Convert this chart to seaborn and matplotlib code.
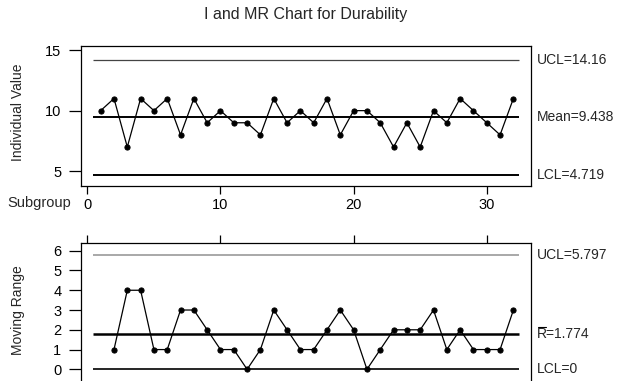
import matplotlib
matplotlib.use("Agg")
import matplotlib.pyplot as plt
import matplotlib.transforms as mtransforms
import seaborn as sns
import pandas as pd

# ---------- Data ----------
subgroup = list(range(1, 33))
individual = [10, 11, 7, 11, 10, 11, 8, 11, 9, 10,
              9, 9, 8, 11, 9, 10, 9, 11, 8, 10,
              10, 9, 7, 9, 7, 10, 9, 11, 10, 9,
              8, 11]
mr_subgroup = list(range(2, 33))
moving_range = [1, 4, 4, 1, 1, 3, 3, 2, 1, 1,
                0, 1, 3, 2, 1, 1, 2, 3, 2, 0,
                1, 2, 2, 2, 3, 1, 2, 1, 1, 1,
                3]

i_ucl, i_mean, i_lcl = 14.16, 9.438, 4.719
mr_ucl, mr_bar, mr_lcl = 5.797, 1.774, 0

i_labels = ["UCL=14.16", "Mean=9.438", "LCL=4.719"]
mr_labels = ["UCL=5.797", "R=1.774", "LCL=0"]

df_i = pd.DataFrame({"subgroup": subgroup, "value": individual})
df_mr = pd.DataFrame({"subgroup": mr_subgroup, "value": moving_range})

# ---------- Style ----------
sns.set_style("ticks")
plt.rcParams["font.family"] = ["Liberation Sans", "DejaVu Sans"]
plt.rcParams["axes.edgecolor"] = "black"
plt.rcParams["axes.linewidth"] = 0.9
plt.rcParams["xtick.color"] = "black"
plt.rcParams["ytick.color"] = "black"

fig = plt.figure(figsize=(6.18, 3.81), dpi=100)
W, H = 618, 381

def px_axes(left, top, right, bottom):
    return fig.add_axes([left / W, 1 - bottom / H, (right - left) / W, (bottom - top) / H])

ax1 = px_axes(80.7, 46, 530.7, 185.7)
ax2 = px_axes(80.7, 242.7, 530.7, 381)

line_kw = dict(color="black", linewidth=0.9, marker="o", markersize=3.7,
               markeredgecolor="black", markerfacecolor="black")

# ---------- I chart ----------
sns.lineplot(data=df_i, x="subgroup", y="value", ax=ax1, **line_kw)
ax1.hlines(i_ucl, 0.45, 32.45, color="#444444", linewidth=0.9)
ax1.hlines(i_mean, 0.45, 32.45, color="black", linewidth=1.4)
ax1.hlines(i_lcl, 0.45, 32.45, color="black", linewidth=1.4)
ax1.set_xlim(-0.5, 33.3)
ax1.set_ylim(3.81, 15.33)
ax1.set_xticks([0, 10, 20, 30])
ax1.set_yticks([5, 10, 15])
ax1.set_xlabel("")
ax1.set_ylabel("")
ax1.tick_params(axis="y", length=9, width=0.9, labelsize=10.5, pad=5)
ax1.tick_params(axis="x", length=6, width=0.9, labelsize=10.5, pad=3)

trans1 = mtransforms.blended_transform_factory(ax1.transAxes, ax1.transData)
for val, lab in zip([i_ucl, i_mean, i_lcl], i_labels):
    ax1.text(1.013, val, lab, transform=trans1, ha="left", va="center", fontsize=10)

# ---------- MR chart ----------
sns.lineplot(data=df_mr, x="subgroup", y="value", ax=ax2, **line_kw)
ax2.hlines(mr_ucl, 0.45, 32.45, color="#999999", linewidth=1.2)
ax2.hlines(mr_bar, 0.45, 32.45, color="black", linewidth=1.8)
ax2.hlines(mr_lcl, 0.45, 32.45, color="black", linewidth=1.2)
ax2.set_xlim(-0.5, 33.3)
ax2.set_ylim(-0.59, 6.405)
ax2.set_xticks([0, 10, 20, 30])
ax2.set_yticks([0, 1, 2, 3, 4, 5, 6])
ax2.set_xlabel("")
ax2.set_ylabel("")
ax2.xaxis.tick_top()
ax2.tick_params(axis="x", length=6, width=0.9, labeltop=False, labelbottom=False)
ax2.tick_params(axis="y", length=9, width=0.9, labelsize=10.5, pad=5)
ax2.spines["bottom"].set_visible(False)

trans2 = mtransforms.blended_transform_factory(ax2.transAxes, ax2.transData)
for val, lab in zip([mr_ucl, mr_bar, mr_lcl], mr_labels):
    t = ax2.text(1.013, val, lab, transform=trans2, ha="left", va="center", fontsize=10)
    if lab.startswith("R="):
        # overline on the R (R-bar)
        fig.canvas.draw()
        bb = t.get_window_extent()
        x0 = bb.x0 + 1.2
        x1 = bb.x0 + 9.0
        y = bb.y1 + 0.2
        fig.add_artist(plt.Line2D([x0 / W, x1 / W], [y / H, y / H], color="black", linewidth=0.8))

# ---------- Text ----------
fig.text(305.7 / W, 1 - 15 / H, "I and MR Chart for Durability", ha="center", va="center", fontsize=11.5)
fig.text(18 / W, 1 - 112 / H, "Individual Value", rotation=90, ha="center", va="center", fontsize=10)
fig.text(18 / W, 1 - 310 / H, "Moving Range", rotation=90, ha="center", va="center", fontsize=10)
fig.text(7 / W, 1 - 203 / H, "Subgroup", ha="left", va="center", fontsize=10.5)

fig.savefig("out.png", dpi=100)
